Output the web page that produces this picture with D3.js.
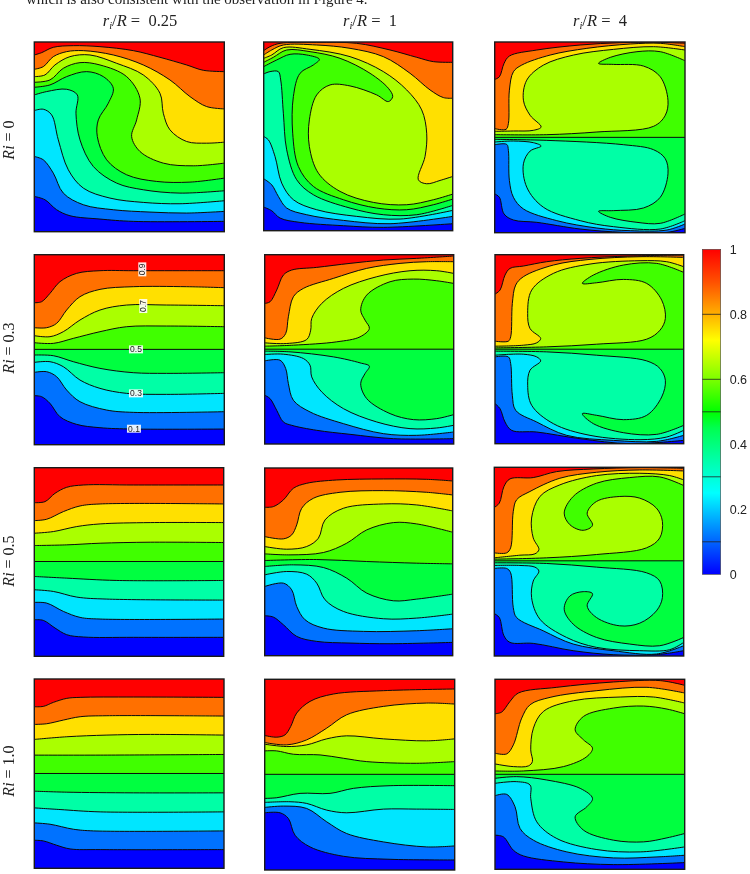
<!DOCTYPE html>
<html><head><meta charset="utf-8">
<script src="https://cdn.jsdelivr.net/npm/d3@7"></script>
<style>html,body{margin:0;padding:0;background:#fff}svg{display:block;filter:blur(0.35px)}</style>
</head><body><svg id="c" width="750" height="874"></svg>
<script>
// Contour levels 0.1 ... 0.9, each read as a list of [x, depth] points across one panel (grid of about 570 x 570).
const bandColors = ["#0000ff","#0072ff","#00e6ff","#00ffa6","#00ff40","#40ff00","#aaff00","#ffe000","#ff7000","#ff0000"];

const a00 = [
[[0,464],[32,474],[67,504],[107,522],[197,532],[297,539],[570,539]],
[[0,344],[27,354],[57,394],[87,454],[147,489],[237,504],[347,511],[457,514],[570,509]],
[[0,206],[27,202],[52,219],[72,294],[102,384],[147,439],[227,469],[327,482],[437,486],[570,477]],
[[0,159],[37,149],[97,142],[129,159],[125,214],[137,294],[177,374],[247,424],[327,444],[437,454],[570,447]],
[[0,136],[47,129],[97,104],[157,89],[207,104],[237,139],[222,184],[192,234],[189,284],[217,354],[277,399],[367,419],[467,421],[570,409]],
[[0,121],[47,114],[87,79],[137,62],[197,69],[277,104],[317,169],[307,234],[292,284],[317,329],[387,364],[477,372],[570,364]],
[[0,104],[32,99],[62,69],[107,44],[167,39],[247,64],[327,99],[377,154],[387,214],[407,264],[457,299],[517,304],[570,301]],
[[0,82],[27,74],[57,44],[97,29],[147,26],[237,39],[327,69],[407,114],[467,164],[517,194],[570,201]],
[[0,39],[22,32],[57,16],[117,11],[197,14],[297,26],[377,46],[457,69],[507,85],[570,89]]];

const a01 = [
[[0,496],[24,507],[49,529],[109,542],[239,552],[359,557],[567,546]],
[[0,411],[24,429],[44,464],[69,499],[129,519],[239,536],[379,546],[567,524]],
[[0,284],[14,294],[34,344],[54,424],[89,474],[159,504],[279,524],[409,532],[567,506]],
[[0,96],[19,89],[44,89],[51,114],[59,214],[69,324],[99,414],[149,459],[259,499],[359,519],[459,519],[567,491]],
[[0,74],[39,54],[79,37],[129,39],[167,52],[149,69],[109,94],[89,164],[87,274],[104,374],[149,434],[239,474],[339,499],[429,504],[509,489],[567,472]],
[[0,61],[29,46],[69,24],[139,29],[229,49],[319,94],[374,139],[387,164],[374,179],[339,159],[259,132],[199,129],[159,159],[137,234],[137,314],[164,394],[229,449],[329,482],[429,489],[509,474],[567,457]],
[[0,49],[24,39],[59,17],[139,22],[259,44],[359,89],[429,144],[474,204],[489,274],[484,344],[464,414],[489,426],[529,416],[567,404]],
[[0,39],[24,24],[59,9],[159,9],[259,19],[359,44],[439,94],[499,144],[539,167],[567,169]],
[[0,26],[19,14],[49,4],[159,1],[279,4],[379,24],[459,46],[509,59],[567,61]]];

const a02 = [
[[0,454],[14,464],[28,514],[56,532],[126,539],[256,559],[386,569],[516,569],[570,557]],
[[0,307],[36,306],[41,324],[44,414],[56,464],[86,499],[186,534],[306,556],[406,564],[516,562],[570,544]],
[[0,299],[56,296],[116,301],[139,311],[106,326],[86,364],[96,434],[146,494],[256,534],[356,552],[496,559],[570,534]],
[[0,291],[156,294],[386,307],[476,322],[511,349],[519,394],[496,464],[446,496],[356,504],[311,506],[346,524],[426,539],[496,542],[570,514]],
[[0,285],[570,285]],
[[0,277],[156,277],[306,269],[476,252],[511,219],[519,174],[496,104],[446,72],[356,67],[311,64],[346,46],[426,29],[496,29],[570,56]],
[[0,267],[56,266],[116,264],[139,254],[106,219],[86,174],[96,114],[146,69],[236,39],[356,22],[476,14],[570,24]],
[[0,259],[34,261],[41,244],[44,144],[56,89],[81,69],[166,39],[276,19],[406,6],[496,4],[570,14]],
[[0,112],[14,104],[28,64],[44,42],[126,24],[256,9],[376,2],[496,1],[570,4]]];

const a10 = [
[[0,423],[22,426],[47,446],[77,486],[127,509],[197,519],[297,523],[570,523]],
[[0,353],[37,351],[67,366],[97,406],[137,441],[217,466],[297,473],[570,471]],
[[0,323],[47,321],[87,336],[137,376],[197,401],[277,416],[397,419],[570,416]],
[[0,301],[57,303],[117,321],[197,341],[297,354],[397,356],[570,354]],
[[0,284],[570,284]],
[[0,264],[57,266],[117,251],[197,231],[277,216],[397,214],[570,216]],
[[0,243],[47,246],[87,231],[137,196],[197,166],[277,151],[397,151],[570,153]],
[[0,219],[37,219],[67,206],[97,166],[137,126],[197,104],[297,96],[457,96],[570,99]],
[[0,144],[22,141],[47,116],[77,81],[127,56],[197,48],[297,48],[570,48]]];

const a11 = [
[[0,421],[16,431],[36,466],[56,501],[81,511],[156,526],[256,538],[386,551],[567,551]],
[[0,318],[46,316],[63,341],[71,386],[86,436],[136,471],[236,506],[356,536],[456,541],[567,531]],
[[0,299],[56,298],[116,311],[136,331],[141,366],[171,411],[236,461],[336,501],[436,521],[516,519],[567,511]],
[[0,289],[76,291],[206,306],[286,324],[314,334],[301,356],[288,386],[306,431],[376,476],[446,494],[516,491],[567,479]],
[[0,283],[567,283]],
[[0,274],[86,271],[216,261],[286,246],[314,221],[301,196],[288,166],[306,121],[376,81],[446,73],[516,78],[567,86]],
[[0,264],[66,266],[126,254],[138,226],[141,191],[171,146],[236,101],[336,66],[436,48],[516,48],[567,56]],
[[0,249],[46,253],[63,236],[71,186],[86,126],[116,101],[206,71],[306,41],[406,26],[486,21],[567,21]],
[[0,146],[16,141],[36,106],[56,61],[81,46],[156,38],[256,26],[356,16],[456,11],[567,4]]];

const a12 = [
[[0,446],[15,461],[30,501],[50,526],[125,531],[255,551],[405,566],[566,556]],
[[0,306],[40,306],[47,326],[52,421],[62,466],[125,501],[215,541],[355,556],[485,559],[566,541]],
[[0,301],[85,298],[125,306],[137,318],[105,346],[98,391],[110,451],[175,506],[285,541],[435,554],[515,546],[566,526]],
[[0,289],[155,291],[305,301],[455,318],[495,341],[511,376],[500,426],[455,481],[385,494],[305,481],[262,476],[295,506],[385,533],[485,538],[566,511]],
[[0,283],[566,283]],
[[0,279],[155,276],[305,268],[455,253],[495,226],[511,191],[500,136],[455,86],[385,74],[305,84],[262,86],[295,61],[385,31],[485,26],[566,53]],
[[0,274],[85,271],[125,264],[137,251],[105,221],[98,176],[110,106],[175,56],[285,28],[435,18],[515,21],[566,36]],
[[0,259],[40,259],[47,246],[52,146],[62,91],[85,66],[175,31],[285,14],[435,6],[566,8]],
[[0,118],[15,106],[30,61],[45,41],[85,34],[155,21],[255,11],[405,4],[566,1]]];

const a20 = [
[[0,457],[27,459],[62,482],[97,502],[147,509],[297,510],[567,510]],
[[0,405],[37,407],[87,432],[137,450],[197,455],[567,455]],
[[0,367],[57,372],[127,389],[217,395],[567,398]],
[[0,327],[97,332],[247,339],[567,339]],
[[0,282],[567,282]],
[[0,234],[97,232],[197,227],[347,224],[567,225]],
[[0,197],[57,192],[127,177],[197,169],[347,165],[567,165]],
[[0,159],[37,155],[87,132],[137,115],[197,109],[567,109]],
[[0,105],[32,102],[62,77],[97,59],[147,52],[297,52],[567,52]]];

const a21 = [
[[0,444],[26,448],[56,471],[96,506],[156,521],[256,526],[376,528],[564,524]],
[[0,356],[56,346],[81,366],[96,416],[121,456],[176,481],[296,491],[456,489],[564,483]],
[[0,321],[66,311],[126,319],[156,346],[181,396],[236,431],[356,453],[456,451],[564,439]],
[[0,296],[86,291],[176,299],[246,331],[306,376],[386,399],[456,394],[564,379]],
[[0,278],[156,275],[306,281],[456,286],[564,288]],
[[0,258],[76,261],[176,254],[246,226],[306,186],[386,164],[456,168],[564,193]],
[[0,236],[66,244],[126,236],[161,211],[181,156],[236,121],[356,108],[456,111],[564,129]],
[[0,206],[56,213],[81,201],[96,171],[111,121],[146,91],[226,73],[356,68],[486,73],[564,81]],
[[0,118],[26,116],[56,96],[86,61],[126,46],[216,36],[356,33],[486,34],[564,39]]];

const a22 = [
[[0,441],[15,453],[29,508],[47,528],[117,531],[237,553],[357,565],[487,565],[569,553]],
[[0,305],[37,305],[49,318],[57,423],[67,453],[147,493],[237,533],[357,553],[487,563],[569,538]],
[[0,296],[77,296],[122,301],[134,313],[117,343],[112,393],[137,458],[217,513],[307,543],[437,553],[527,550],[569,528]],
[[0,288],[157,290],[307,301],[457,318],[497,343],[505,393],[487,433],[437,470],[377,478],[307,453],[279,418],[295,381],[267,375],[227,388],[210,428],[237,473],[307,513],[407,533],[497,538],[569,513]],
[[0,282],[569,282]],
[[0,277],[157,273],[307,263],[457,243],[497,213],[505,163],[487,123],[437,93],[377,88],[307,103],[279,138],[295,175],[267,190],[227,173],[210,138],[237,88],[307,48],[407,31],[497,29],[569,55]],
[[0,273],[77,265],[122,261],[134,248],[117,213],[112,153],[137,88],[197,53],[307,25],[437,18],[527,25],[569,38]],
[[0,258],[37,258],[49,243],[57,133],[67,98],[107,73],[197,33],[307,15],[437,8],[569,11]],
[[0,121],[15,108],[29,58],[47,35],[117,31],[187,13],[297,5],[437,1],[569,3]]];

const a30 = [
[[0,483],[27,485],[67,498],[107,509],[197,511],[567,511]],
[[0,431],[47,435],[117,450],[177,455],[567,455]],
[[0,386],[77,391],[197,398],[567,398]],
[[0,336],[97,339],[297,341],[567,341]],
[[0,283],[567,283]],
[[0,228],[197,228],[567,226]],
[[0,181],[97,173],[217,168],[347,166],[567,168]],
[[0,136],[37,134],[87,123],[137,113],[217,110],[567,111]],
[[0,83],[27,82],[57,70],[97,58],[137,55],[297,54],[567,55]]];

const a31 = [
[[0,399],[46,399],[71,416],[91,466],[136,501],[236,529],[376,538],[570,540]],
[[0,383],[56,379],[126,386],[186,426],[246,461],[356,486],[486,501],[570,498]],
[[0,368],[76,366],[126,371],[186,391],[246,399],[356,388],[456,388],[570,389]],
[[0,356],[36,354],[106,341],[196,341],[266,326],[376,318],[570,318]],
[[0,284],[570,284]],
[[0,214],[36,214],[86,224],[166,226],[236,236],[306,246],[456,251],[570,246]],
[[0,194],[66,201],[126,196],[186,178],[246,169],[356,178],[486,184],[570,178]],
[[0,189],[66,196],[126,181],[186,146],[246,106],[356,81],[486,71],[570,74]],
[[0,168],[36,173],[61,166],[78,141],[96,101],[136,66],[206,44],[356,34],[570,29]]];

const a32 = [
[[0,466],[25,471],[55,511],[85,528],[205,546],[355,554],[568,548]],
[[0,348],[35,344],[60,381],[75,446],[115,481],[215,516],[355,534],[485,531],[568,526]],
[[0,311],[65,306],[105,316],[107,356],[125,426],[185,476],[305,509],[435,516],[568,501]],
[[0,296],[65,291],[155,301],[255,326],[292,356],[275,381],[240,411],[265,451],[355,481],[445,486],[515,474],[568,461]],
[[0,284],[568,284]],
[[0,274],[85,274],[205,261],[275,231],[292,206],[265,181],[240,151],[265,111],[355,86],[445,80],[515,89],[568,103]],
[[0,253],[55,261],[100,259],[112,246],[107,211],[115,146],[145,96],[235,64],[375,53],[475,53],[568,71]],
[[0,221],[35,223],[55,196],[80,116],[105,76],[165,54],[305,34],[455,24],[568,41]],
[[0,103],[20,98],[45,66],[70,41],[185,24],[355,8],[495,4],[568,18]]];

const contourSets = [a00,a01,a02,a10,a11,a12,a20,a21,a22,a30,a31,a32];

// Contour labels on the Ri = 0.3, r/R = 0.25 panel: text, x, depth, rotated
const labelTexts = ["0.9","0.7","0.5","0.3","0.1"];
const labelX = [324,327,305,305,299];
const labelDepth = [44,154,284,416,522];
const labelRot = [-90,-90,0,0,0];

const colHeads = ["0.25","1","4"];
const rowHeads = ["0","0.3","0.5","1.0"];

const cbarTicks = [0,0.2,0.4,0.6,0.8,1];
const cbarLines = [0.1,0.3,0.5,0.6,0.8];
const cbarStopValues = [0,0.1,0.15,0.25,0.35,0.45,0.5,0.6,0.72,0.8,0.9,1];
const cbarStopColors = ["#0000ff","#0064ff","#0096ff","#00ffff","#00ffaa","#00ff50","#00ff00","#7cff00","#ffff00","#ffb000","#ff5000","#ff0000"];

// Layout (pixels) of each frame: x0,x1,y0,y1
const frames = [
[34.3,224.3,42,231.7],[263.7,452.7,42,230.7],[494.7,685,42,232.7],
[34.3,224.3,254.7,444.7],[264.7,453.7,254.7,444],[495,683.7,254.7,443.7],
[34.3,223.7,467.7,656.3],[264.7,452.7,468,655.7],[494.3,683.7,467.3,656],
[34.3,224,679,868.3],[264.7,454.7,679.3,870],[495,684.7,679.3,869.3]];
const headX = [140,370,600];
const rowY = [140,348,561,771];

const svg = d3.select("#c");
const SERIF = "'Liberation Serif','Times New Roman',serif";

svg.append("text").attr("x",26).attr("y",4).attr("font-family",SERIF).attr("font-size",15)
  .attr("fill","#222").text("which is also consistent with the observation in Figure 4.");

const defs = svg.append("defs");
const lineGen = d3.line().curve(d3.curveCatmullRom.alpha(0.5));

contourSets.forEach((set,i)=>{
  const [x0,x1,y0,y1] = frames[i];
  const xMax = d3.max(set, c=>d3.max(c,p=>p[0]));
  const x = d3.scaleLinear().domain([0,xMax]).range([x0,x1]);
  const y = d3.scaleLinear().domain([0,xMax]).range([y0,y1]);
  defs.append("clipPath").attr("id","cp"+i).append("rect")
    .attr("x",x0).attr("y",y0).attr("width",x1-x0).attr("height",y1-y0);
  const g = svg.append("g").attr("clip-path",`url(#cp${i})`);
  g.append("rect").attr("x",x0).attr("y",y0).attr("width",x1-x0).attr("height",y1-y0).attr("fill",bandColors[0]);
  const gen = lineGen.x(d=>x(d[0])).y(d=>y(d[1]));
  g.selectAll("path.f").data(set).join("path").attr("class","f")
    .attr("fill",(d,k)=>bandColors[k+1])
    .attr("d",d=>gen(d)+`L${x1+2},${y0-2}L${x0-2},${y0-2}Z`);
  g.selectAll("path.l").data(set).join("path").attr("class","l")
    .attr("fill","none").attr("stroke","#0a0a0a").attr("stroke-width",1).attr("d",d=>gen(d));
  svg.append("rect").attr("x",x0).attr("y",y0).attr("width",x1-x0).attr("height",y1-y0)
    .attr("fill","none").attr("stroke","#1a1a1a").attr("stroke-width",1.4);
  if(i===3){
    const lab = svg.selectAll("g.lab").data(labelTexts).join("g").attr("class","lab")
      .attr("transform",(d,k)=>`translate(${x(labelX[k])},${y(labelDepth[k])}) rotate(${labelRot[k]})`);
    lab.append("rect").attr("x",-7).attr("y",-4).attr("width",14).attr("height",8).attr("fill","#fff").attr("opacity",0.9);
    lab.append("text").attr("text-anchor","middle").attr("y",3).attr("font-family","'Liberation Sans',sans-serif")
      .attr("font-size",8.5).attr("fill","#222").text(d=>d);
  }
});

// column heads
const heads = svg.selectAll("text.h").data(colHeads).join("text").attr("class","h")
  .attr("x",(d,i)=>headX[i]).attr("y",25.5).attr("text-anchor","middle").attr("font-family",SERIF)
  .attr("font-size",16.5).attr("fill","#222");
heads.each(function(d){
  const t = d3.select(this);
  t.append("tspan").attr("font-style","italic").text("r");
  t.append("tspan").attr("font-style","italic").attr("font-size",10.5).attr("dy",3).text("i");
  t.append("tspan").attr("dy",-3).text("/");
  t.append("tspan").attr("font-style","italic").text("R");
  t.append("tspan").style("white-space","pre").text(" =  "+d);
});
// row heads
const rows = svg.selectAll("text.r").data(rowHeads).join("text").attr("class","r")
  .attr("text-anchor","middle").attr("font-family",SERIF).attr("font-size",16).attr("fill","#222")
  .attr("transform",(d,i)=>`translate(14,${rowY[i]}) rotate(-90)`);
rows.each(function(d){
  const t = d3.select(this);
  t.append("tspan").attr("font-style","italic").text("Ri");
  t.append("tspan").style("white-space","pre").text(" = "+d);
});

// colour bar
const cb = {x:702.3,w:18.4,y0:249.3,y1:574.3};
const grad = defs.append("linearGradient").attr("id","cbg").attr("x1",0).attr("x2",0).attr("y1",1).attr("y2",0);
grad.selectAll("stop").data(cbarStopValues).join("stop")
  .attr("offset",d=>d).attr("stop-color",(d,i)=>cbarStopColors[i]);
svg.append("rect").attr("x",cb.x).attr("y",cb.y0).attr("width",cb.w).attr("height",cb.y1-cb.y0)
  .attr("fill","url(#cbg)").attr("stroke","#444").attr("stroke-width",0.6);
const cy = d3.scaleLinear().domain([0,1]).range([cb.y1,cb.y0]);
svg.selectAll("line.cl").data(cbarLines).join("line").attr("class","cl")
  .attr("x1",cb.x).attr("x2",cb.x+cb.w).attr("y1",d=>cy(d)).attr("y2",d=>cy(d)).attr("stroke","#222").attr("stroke-width",0.8);
const ax = svg.append("g").attr("transform",`translate(${cb.x+cb.w},0)`)
  .call(d3.axisRight(cy).tickValues(cbarTicks).tickSize(0).tickPadding(9).tickFormat(d3.format("~g")));
ax.select(".domain").remove();
ax.selectAll("text").attr("font-family","'Liberation Sans',Arial,sans-serif").attr("font-size",12.5).attr("fill","#222");
</script></body></html>
